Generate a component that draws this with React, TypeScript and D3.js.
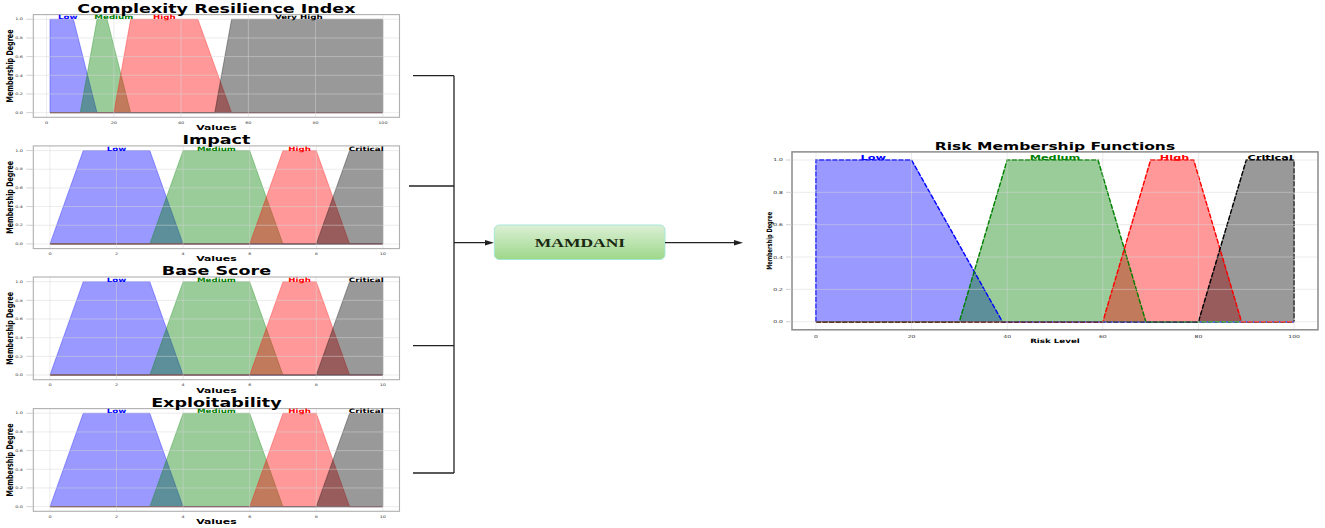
import React from "react";
import * as d3 from "d3";

// ---------- data ----------
const panelTitles = ["Complexity Resilience Index", "Impact", "Base Score", "Exploitability"];
const criCategories = ["Low", "Medium", "High", "Very High"];
const cvssCategories = ["Low", "Medium", "High", "Critical"];
const riskCategories = ["Low", "Medium", "High", "Critical"];
const categoryColors = ["#0000ff", "#008000", "#ff0000", "#000000"];

const criUniverse = [1, 100];
const criParams = [
  [1, 1, 8, 15],
  [10, 15, 18, 25],
  [20, 25, 45, 55],
  [50, 55, 100, 100],
];
const criLabelX = [6.3, 20, 35, 75];
const criTicks = [0, 20, 40, 60, 80, 100];

const cvssUniverse = [0, 10];
const cvssParams = [
  [0, 1, 3, 4],
  [3, 4, 6, 7],
  [6, 7, 8, 9],
  [8, 9, 10, 10],
];
const cvssLabelX = [2, 5, 7.5, 9.5];
const cvssTicks = [0, 2, 4, 6, 8, 10];

const riskUniverse = [0, 100];
const riskParams = [
  [0, 0, 20, 39],
  [30, 40, 59, 69],
  [60, 70, 79, 89],
  [80, 90, 100, 100],
];
const riskLabelX = [12, 50, 75, 95];
const riskTicks = [0, 20, 40, 60, 80, 100];

const yTicks = [0, 0.2, 0.4, 0.6, 0.8, 1.0];

// ---------- helpers ----------
const SX = 1.45;
const FONT = "'DejaVu Sans', sans-serif";

function trap(p: number[], u: number[]): [number, number][] {
  const [a, b, c, dd] = p;
  return [
    [u[0], 0],
    [a, 0],
    [b, 1],
    [c, 1],
    [dd, 0],
    [u[1], 0],
  ];
}

function T(props: any) {
  const { x, y, s = SX, size, weight = "normal", fill = "#222", anchor = "middle", rot = false, family = FONT, children } = props;
  const tr = rot ? `translate(${x},${y}) rotate(-90) scale(1,${s})` : `translate(${x},${y}) scale(${s},1)`;
  return (
    <text transform={tr} fontSize={size} fontWeight={weight} fill={fill} textAnchor={anchor} fontFamily={family}>
      {children}
    </text>
  );
}

function Panel(props: any) {
  const { L, R, top, bottom, universe, params, ticks, labelX, cats, title, xLabel, risk, tickSize, catSize, titleSize, axisSize, ylabSize, ylabX, ytickX } = props;
  const span = universe[1] - universe[0];
  const x = d3.scaleLinear().domain([universe[0] - 0.05 * span, universe[1] + 0.05 * span]).range([L, R]);
  const y = d3.scaleLinear().domain([-0.05, 1.05]).range([bottom, top]);
  const area = d3.area<[number, number]>().x((d) => x(d[0])).y0(y(0)).y1((d) => y(d[1]));
  const line = d3.line<[number, number]>().x((d) => x(d[0])).y((d) => y(d[1]));
  const cx = (L + R) / 2;
  return (
    <g>
      <rect x={L} y={top} width={R - L} height={bottom - top} fill="#fff" />
      {params.map((p: number[], i: number) => (
        <path key={"a" + i} d={area(trap(p, universe)) || ""} fill={categoryColors[i]} fillOpacity={0.4} stroke={categoryColors[i]} strokeOpacity={0.4} strokeWidth={0.8} />
      ))}
      {risk &&
        params.map((p: number[], i: number) => (
          <path key={"l" + i} d={line(trap(p, universe)) || ""} fill="none" stroke={categoryColors[i]} strokeWidth={1.4} strokeDasharray="5,1.6" />
        ))}
      {/* grid */}
      {ticks.map((t: number) => (
        <line key={"gx" + t} x1={x(t)} x2={x(t)} y1={top} y2={bottom} stroke="#d8d8d8" strokeOpacity={0.6} strokeWidth={0.8} />
      ))}
      {yTicks.map((t: number) => (
        <line key={"gy" + t} x1={L} x2={R} y1={y(t)} y2={y(t)} stroke="#d8d8d8" strokeOpacity={0.6} strokeWidth={0.8} />
      ))}
      <rect x={L} y={top} width={R - L} height={bottom - top} fill="none" stroke={risk ? "#8a8a8a" : "#b0b0b0"} strokeWidth={risk ? 1.5 : 1.1} />
      {/* ticks */}
      {yTicks.map((t: number) => (
        <g key={"ty" + t}>
          <line x1={L - (risk ? 6 : 7)} x2={L} y1={y(t)} y2={y(t)} stroke="#c8c8c8" strokeWidth={0.8} />
          <T x={ytickX} y={y(t) + tickSize * 0.36} size={tickSize} anchor="end" fill="#333">
            {t.toFixed(1)}
          </T>
        </g>
      ))}
      {ticks.map((t: number) => (
        <T key={"tx" + t} x={x(t)} y={bottom + tickSize * 1.9} size={tickSize} fill="#333">
          {String(t)}
        </T>
      ))}
      {cats.map((c: string, i: number) => (
        <T key={"c" + i} x={x(labelX[i])} y={y(1) + 0.2} size={catSize} weight="bold" fill={categoryColors[i]}>
          {c}
        </T>
      ))}
      <T x={cx} y={top - 2} size={titleSize} weight="bold" fill="#000">
        {title}
      </T>
      <T x={cx} y={bottom + (risk ? 13.5 : 12.8)} size={axisSize} weight="bold" fill="#000">
        {xLabel}
      </T>
      <T x={ylabX} y={(top + bottom) / 2} size={ylabSize} weight="bold" fill="#000" rot>
        Membership Degree
      </T>
    </g>
  );
}

function Arrow({ x1, x2, y }: any) {
  return (
    <g>
      <line x1={x1} x2={x2 - 7} y1={y} y2={y} stroke="#222" strokeWidth={1.3} />
      <path d={`M${x2},${y} L${x2 - 9},${y - 2.8} L${x2 - 9},${y + 2.8} Z`} fill="#222" />
    </g>
  );
}

export default function App() {
  const leftL = 33.3;
  const leftR = 399.5;
  const tops = [14.6, 145.9, 277.0, 408.6];
  const h = 102.7;
  const bracketY = [75.7, 186, 345.7, 473];
  const bx = 454;
  return (
    <svg width={1325} height={528} style={{ position: "absolute", left: 0, top: 0, background: "#fff" }}>
      <rect width={1325} height={528} fill="#fff" />
      <defs>
        <linearGradient id="boxg" x1="0" y1="0" x2="0" y2="1">
          <stop offset="0" stopColor="#dcefd6" />
          <stop offset="1" stopColor="#9dd889" />
        </linearGradient>
      </defs>
      {panelTitles.map((t, i) => (
        <Panel
          key={t}
          L={leftL}
          R={leftR}
          top={tops[i]}
          bottom={tops[i] + h}
          universe={i === 0 ? criUniverse : cvssUniverse}
          params={i === 0 ? criParams : cvssParams}
          ticks={i === 0 ? criTicks : cvssTicks}
          labelX={i === 0 ? criLabelX : cvssLabelX}
          cats={i === 0 ? criCategories : cvssCategories}
          title={t}
          xLabel="Values"
          risk={false}
          tickSize={3.4}
          catSize={6}
          titleSize={12.1}
          axisSize={7.5}
          ylabSize={6.4}
          ylabX={13.2}
          ytickX={23}
        />
      ))}
      <Panel
        L={792}
        R={1318}
        top={151.9}
        bottom={329.8}
        universe={riskUniverse}
        params={riskParams}
        ticks={riskTicks}
        labelX={riskLabelX}
        cats={riskCategories}
        title="Risk Membership Functions"
        xLabel="Risk Level"
        risk={true}
        tickSize={4.2}
        catSize={7.8}
        titleSize={10.7}
        axisSize={6}
        ylabSize={5.1}
        ylabX={772.3}
        ytickX={783}
      />
      {/* bracket */}
      {bracketY.map((yy, i) => (
        <line key={"b" + i} x1={i === 1 ? 409 : 413} x2={bx} y1={yy} y2={yy} stroke="#222" strokeWidth={1.3} />
      ))}
      <line x1={bx} x2={bx} y1={bracketY[0]} y2={bracketY[3]} stroke="#222" strokeWidth={1.3} />
      <Arrow x1={bx} x2={494} y={242.7} />
      <rect x={494.3} y={225} width={170.7} height={34.5} rx={5} fill="url(#boxg)" stroke="#a6e6d8" strokeWidth={1} />
      <T x={580} y={247} s={1.4} size={12.5} weight="bold" fill="#1a2812" family="'Liberation Serif', 'DejaVu Serif', serif">
        MAMDANI
      </T>
      <Arrow x1={665} x2={743} y={242.7} />
    </svg>
  );
}
